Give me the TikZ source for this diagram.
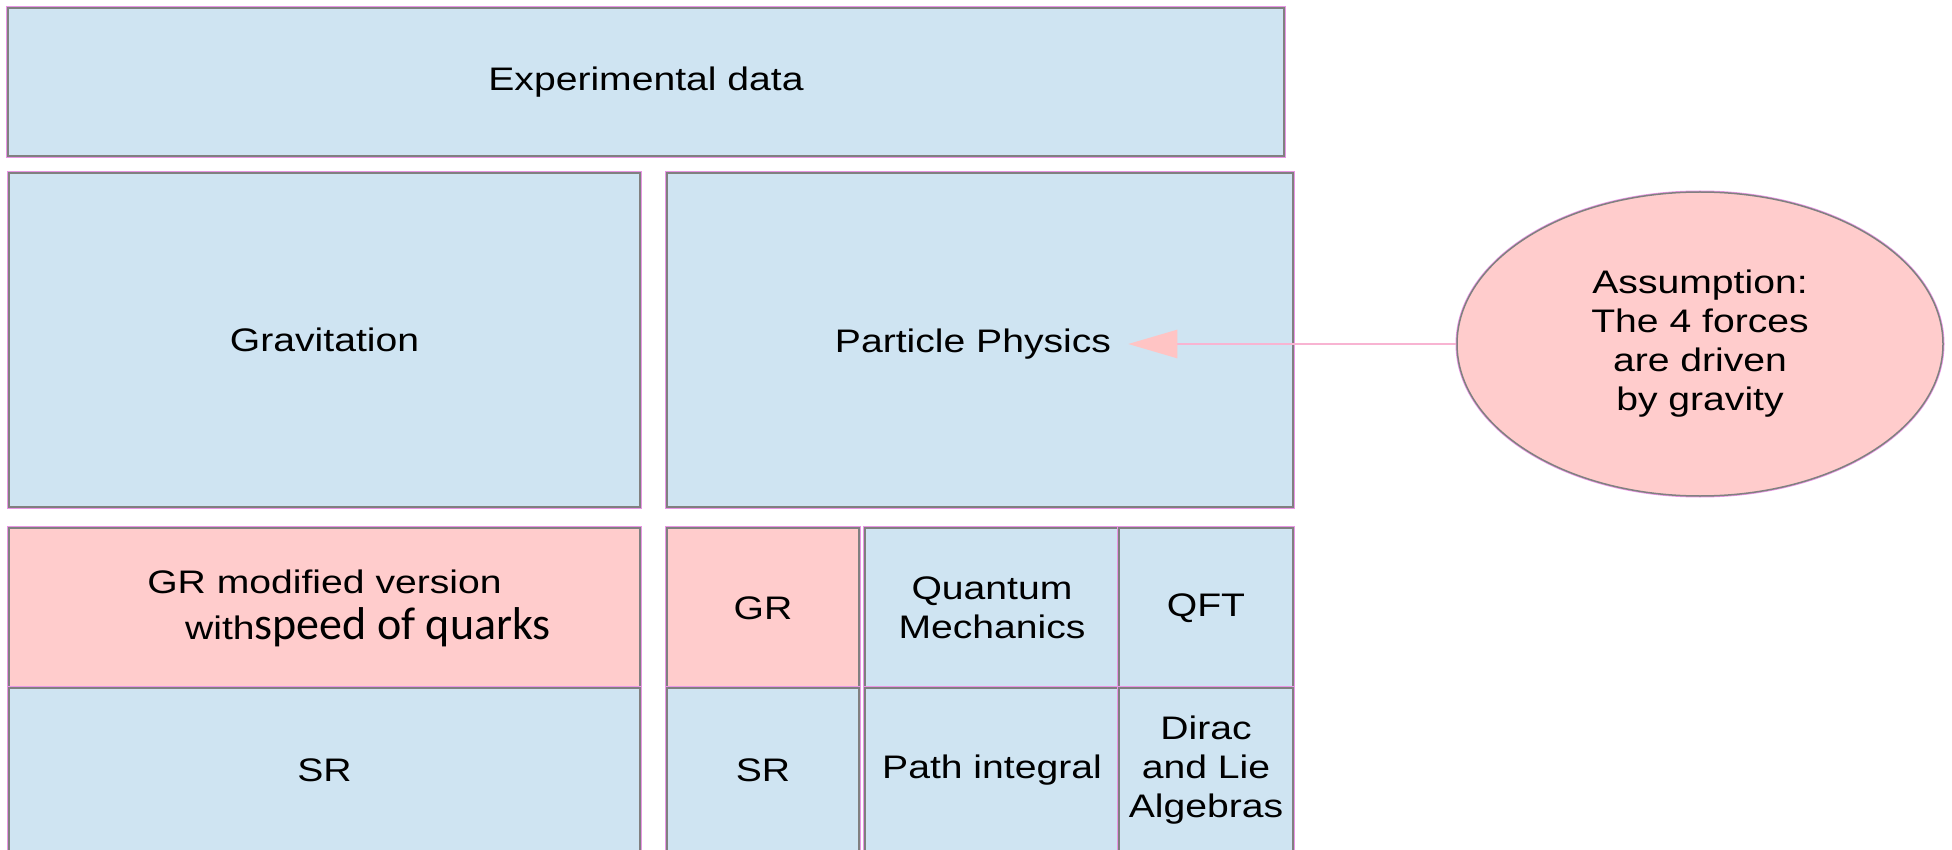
\documentclass[tikz,border=0pt]{standalone}
\usepackage{fontspec}
\setmainfont{Liberation Sans}[FakeStretch=1.2]
\newfontfamily\quarkfont{Carlito}
\usepackage{tikz}
\usepackage{xcolor}
\usetikzlibrary{arrows.meta,positioning,shapes.geometric}
\definecolor{cellblue}{RGB}{207,228,242}
\definecolor{cellpink}{RGB}{255,204,204}
\definecolor{cellline}{RGB}{128,128,128}
\definecolor{halo}{RGB}{232,150,228}
\definecolor{arrowpink}{RGB}{255,196,196}
\definecolor{arrowline}{RGB}{248,180,210}
\tikzset{
  >=Latex,
  cell/.style = {draw=cellline, line width=2pt, fill=cellblue, inner sep=0pt, align=center,
                 preaction={draw=halo, line width=3.5pt}},
  hot/.style  = {fill=cellpink},
  note/.style = {ellipse, draw=cellline, line width=1.5pt, fill=cellpink, inner sep=0pt, align=center,
                 preaction={draw=halo, line width=3pt}},
  txt/.style  = {inner sep=0pt, align=center},
  pointer/.style = {draw=arrowline, line width=2.5pt, -{Triangle[length=49pt, width=28pt, color=arrowpink]}},
  every node/.style = {font=\fontsize{32.6}{39}\selectfont}
}

\begin{document}
\begin{tikzpicture}[x=1pt, y=-1pt]  % one unit per pixel of the sketch
  \useasboundingbox (0,0) rectangle (1952,850);

  %  --  Top row: the data everything rests on
  \node[cell, minimum width=1276pt, minimum height=148pt] (expdata) at (646,82) {Experimental data};

  %  --  Middle row: the two theories
  \node[cell, minimum width=631pt, minimum height=334pt] (grav) at (324.5,340) {Gravitation};
  \node[cell, minimum width=626pt, minimum height=334pt] (partphys) at (980,340) {};
  \node[txt, inner xsep=17pt] (pplabel) at (973,344) {Particle Physics};

  %  --  Bottom left: gravitation column
  \node[cell, hot, minimum width=631pt, minimum height=160pt] (grmod) at (324.5,608)
    {GR modified version\\[7pt]\hspace*{87pt}with{\quarkfont\fontsize{46}{46}\selectfont speed of quarks}};
  \node[cell, minimum width=631pt, minimum height=165pt] (srleft) at (324.5,770.5) {SR};

  %  --  Bottom middle: GR over SR
  \node[cell, hot, minimum width=192pt, minimum height=160pt] (grmid) at (763,608) {GR};
  \node[cell, minimum width=192pt, minimum height=165pt] (srmid) at (763,770.5) {SR};

  %  --  Bottom right: quantum tools, 2x2 grid
  \foreach \n/\x/\y/\w/\h/\t in {qm/992/608/254/160/{Quantum\\Mechanics},
                                 qft/1206/608/174/160/QFT,
                                 pathint/992/770.5/254/165/Path integral,
                                 dirac/1206/770.5/174/165/{Dirac\\and Lie\\Algebras}}{
    \node[cell, minimum width=\w pt, minimum height=\h pt] (\n) at (\x,\y) {\t};
  }

  %  --  The assumption, pointing at particle physics
  \node[note, minimum width=486pt, minimum height=304pt] (assume) at (1700,344)
    {Assumption:\\The 4 forces\\are driven\\by gravity};
  \draw[pointer] (assume) -- (pplabel);
\end{tikzpicture}
\end{document}
